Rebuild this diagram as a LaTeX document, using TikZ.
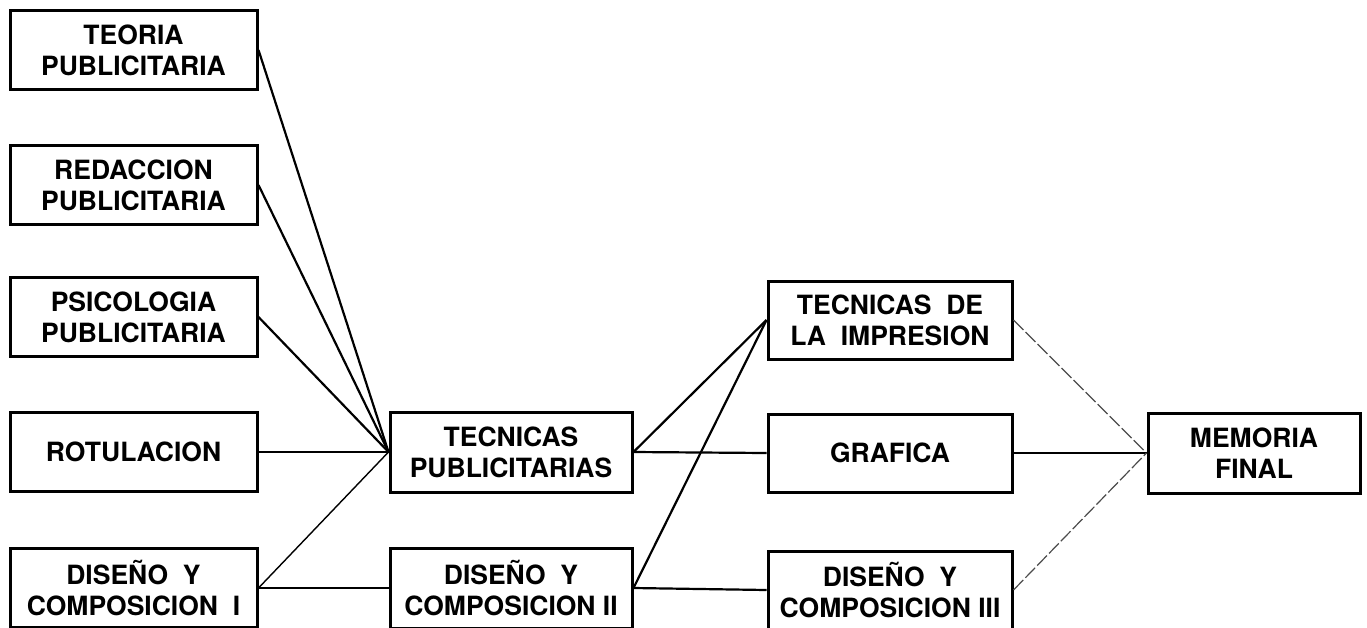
\documentclass[tikz,border=0pt]{standalone}
\usepackage{fontspec}
\setmainfont{TeX Gyre Heros}
\begin{document}
\begin{tikzpicture}[x=1pt,y=-1pt,
  box/.style={draw=black,line width=3pt,rectangle,align=center,inner sep=0pt,
    font=\fontsize{26.5}{31}\selectfont\bfseries},
  lw/.style={box,minimum width=247pt,minimum height=79pt},
  mw/.style={box,minimum width=242pt,minimum height=80pt},
  rw/.style={box,minimum width=244pt,minimum height=78pt},
  link/.style={draw=black,line width=2.2pt},
  faint/.style={draw=black!70,line width=1.2pt,dash pattern=on 14pt off 3pt}]
\useasboundingbox (0,0) rectangle (1367,627);
\clip (0,0) rectangle (1367,627);
\fill[white] (0,0) rectangle (1367,627);
% left column
\node[lw] (teoria) at (133.5,50) {TEORIA\\PUBLICITARIA};
\node[lw] (redac) at (133.5,185) {REDACCION\\PUBLICITARIA};
\node[lw] (psico) at (133.5,317) {PSICOLOGIA\\PUBLICITARIA};
\node[lw] (rotul) at (133.5,452) {ROTULACION};
\node[lw] (dis1) at (133.5,588) {DISEÑO\ \ Y\\COMPOSICION\ \ I};
% middle column
\node[mw] (tecpub) at (511,452) {TECNICAS\\PUBLICITARIAS};
\node[mw] (dis2) at (511,588) {DISEÑO\ \ Y\\COMPOSICION\ II};
% third column
\node[rw] (impr) at (890,320) {TECNICAS\ \ DE\\LA\ \ IMPRESION};
\node[rw] (graf) at (890,453) {GRAFICA};
\node[rw] (dis3) at (890,590) {DISEÑO\ \ Y\\COMPOSICION\ III};
% final
\node[box,minimum width=212pt,minimum height=80pt] (mem) at (1254,453) {MEMORIA\\FINAL};
% connectors
\draw[link] (teoria.east) -- (tecpub.west);
\draw[link] (redac.east) -- (tecpub.west);
\draw[link] (psico.east) -- (tecpub.west);
\draw[link] (rotul.east) -- (tecpub.west);
\draw[link,line width=1.4pt] (dis1.east) -- (tecpub.west);
\draw[link] (dis1.east) -- (dis2.west);
\draw[link] (tecpub.east) -- (impr.west);
\draw[link] (dis2.east) -- (impr.west);
\draw[link] (tecpub.east) -- (graf.west);
\draw[link] (dis2.east) -- (dis3.west);
\draw[faint] (impr.east) -- (mem.west);
\draw[link] (graf.east) -- (mem.west);
\draw[faint] (dis3.east) -- (mem.west);
\end{tikzpicture}
\end{document}
